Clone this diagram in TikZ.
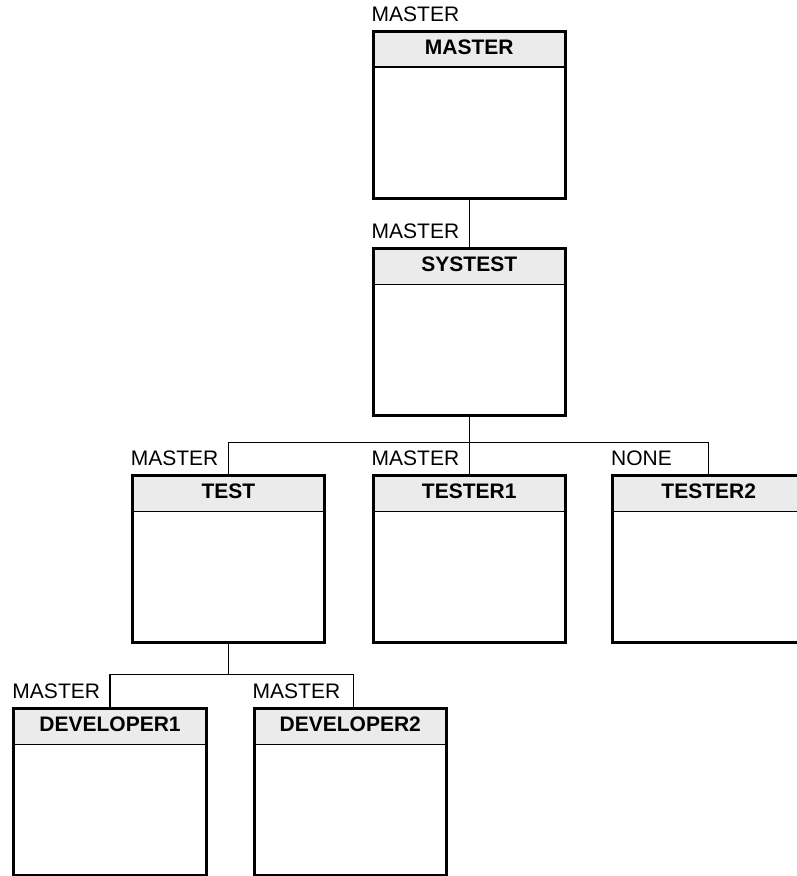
\documentclass[tikz,border=0pt]{standalone}
\usepackage{fontspec}
\setmainfont{Liberation Sans}
\definecolor{headgray}{HTML}{EBEBEB}
\begin{document}
\begin{tikzpicture}[x=1pt,y=-1pt,
  box/.style={draw, line width=3pt, minimum width=192.5pt, minimum height=167.6pt,
    inner sep=0pt, anchor=north west,
    path picture={
      \fill[headgray] (path picture bounding box.north west) rectangle ([yshift=-36pt]path picture bounding box.north east);
      \draw[line width=1.4pt] ([yshift=-36pt]path picture bounding box.north west) -- ([yshift=-36pt]path picture bounding box.north east);
    }},
  title/.style={font=\fontsize{21}{25}\selectfont\bfseries, inner sep=0pt},
  tag/.style={font=\fontsize{21}{25}\selectfont, inner sep=0pt, anchor=base west},
  wire/.style={line width=1.3pt}]
\clip (0,0) rectangle (797,876);
\fill[white] (0,0) rectangle (797,876);

% boxes
\node[box] (master)  at (371.5,29.5) {};
\node[box] (systest) at (371.5,246.7) {};
\node[box] (test)    at (130.7,473.7) {};
\node[box] (tester1) at (371.5,473.7) {};
\node[box] (tester2) at (611,473.7) {};
\node[box] (dev1)    at (12.3,706.7) {};
\node[box] (dev2)    at (252.5,706.7) {};

% titles
\node[title] (masterT)  at ([yshift=-18pt]master.north)  {MASTER};
\node[title] (systestT) at ([yshift=-18pt]systest.north) {SYSTEST};
\node[title] (testT)    at ([yshift=-18pt]test.north)    {TEST};
\node[title] (tester1T) at ([yshift=-18pt]tester1.north) {TESTER1};
\node[title] (tester2T) at ([yshift=-18pt]tester2.north) {TESTER2};
\node[title] (dev1T)    at ([yshift=-18pt]dev1.north)    {DEVELOPER1};
\node[title] (dev2T)    at ([yshift=-18pt]dev2.north)    {DEVELOPER2};

% tags above boxes
\node[tag] (masterL)  at ([yshift=8pt]master.north west)  {MASTER};
\node[tag] (systestL) at ([yshift=8pt]systest.north west) {MASTER};
\node[tag] (testL)    at ([yshift=8pt]test.north west)    {MASTER};
\node[tag] (tester1L) at ([yshift=8pt]tester1.north west) {MASTER};
\node[tag] (tester2L) at ([yshift=8pt]tester2.north west) {NONE};
\node[tag] (dev1L)    at ([yshift=8pt]dev1.north west)    {MASTER};
\node[tag] (dev2L)    at ([yshift=8pt]dev2.north west)    {MASTER};

% connectors
\draw[wire] (master.south) -- (systest.north);
\coordinate (bus1) at ([yshift=-25pt]systest.south);
\draw[wire] (systest.south) -- (bus1) -- (tester1.north);
\draw[wire] (test.north) |- (bus1) -| (tester2.north);
\coordinate (bus2) at ([yshift=-30pt]test.south);
\draw[wire] (test.south) -- (bus2);
\draw[wire] (dev1.north) |- (bus2) -| ([xshift=3pt]dev2.north);
\end{tikzpicture}
\end{document}
